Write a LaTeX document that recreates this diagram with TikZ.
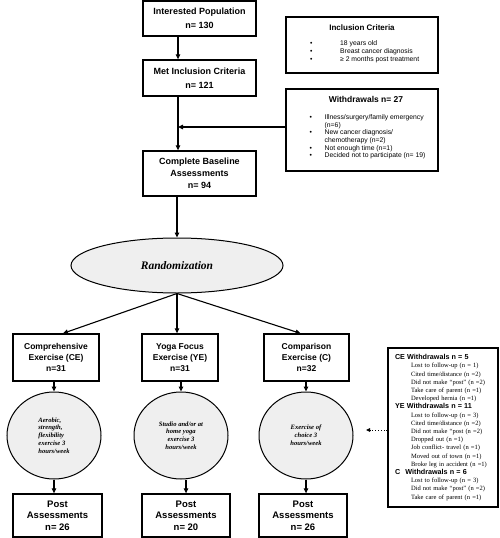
\documentclass[tikz,border=0pt]{standalone}
\usepackage{fontspec}
\setmainfont{Liberation Serif}
\setsansfont{Liberation Sans}
\usetikzlibrary{arrows.meta,shapes.geometric}
\definecolor{ellfill}{HTML}{EFEFEF}
\newcommand\wdhead{\fontsize{7.2}{8.2}\selectfont\sffamily\bfseries}
\begin{document}
\begin{tikzpicture}[x=1pt,y=-1pt,
  box/.style={draw,line width=1.3pt,inner sep=0pt,align=center},
  mainfont/.style={font=\fontsize{9}{14}\selectfont\sffamily\bfseries},
  armfont/.style={font=\fontsize{8.5}{11}\selectfont\sffamily\bfseries},
  postfont/.style={font=\fontsize{9.5}{11.5}\selectfont\sffamily\bfseries},
  ell/.style={draw,ellipse,line width=1pt,fill=ellfill,inner sep=0pt},
  elltext/.style={font=\fontsize{6.6}{7.8}\selectfont\rmfamily\bfseries\itshape},
  listfont/.style={font=\fontsize{6.8}{8}\selectfont\sffamily},
  arr/.style={-{Triangle[length=5pt,width=4.5pt]},line width=1.1pt},
  dotarr/.style={-{Triangle[length=4pt,width=3.5pt]},line width=0.9pt,dotted},
]
\useasboundingbox (0,0) rectangle (500,538);

% main column
\node[box,mainfont,minimum width=113pt,minimum height=35pt] (int) at (199.5,18.5) {Interested Population\\n= 130};
\node[box,mainfont,minimum width=113pt,minimum height=36pt] (met) at (199.5,78) {Met Inclusion Criteria\\n= 121};
\node[box,font=\fontsize{9}{12}\selectfont\sffamily\bfseries,minimum width=113pt,minimum height=45pt] (base) at (199.5,173.5) {Complete Baseline\\Assessments\\n= 94};
\coordinate (spine) at (178,0);

% side boxes
\node[draw,line width=1.2pt,minimum width=152pt,minimum height=56pt] (incl) at (362,45) {};
\node[font=\fontsize{8}{9}\selectfont\sffamily\bfseries] (inclh) at (362,28) {Inclusion Criteria};
\node[listfont,anchor=north west,align=left,inner sep=0pt] (incll) at (310,40)
  {\makebox[30pt][l]{•}18 years old\\\makebox[30pt][l]{•}Breast cancer diagnosis\\\makebox[30pt][l]{•}≥ 2 months post treatment};

\node[draw,line width=1.2pt,minimum width=152pt,minimum height=82pt] (wd) at (362,130) {};
\node[font=\fontsize{8.5}{9}\selectfont\sffamily\bfseries] (wdh) at (366,99) {Withdrawals n= 27};
\node[font=\fontsize{6.8}{7.6}\selectfont\sffamily,anchor=north west,align=left,inner sep=0pt] (wdl) at (309.5,114.5)
  {\makebox[15pt][l]{•}Illness/surgery/family emergency\\\makebox[15pt][l]{}(n=6)\\\makebox[15pt][l]{•}New cancer diagnosis/\\\makebox[15pt][l]{}chemotherapy (n=2)\\\makebox[15pt][l]{•}Not enough time (n=1)\\\makebox[15pt][l]{•}Decided not to participate (n= 19)};

% randomization
\node[ell,minimum width=212pt,minimum height=55pt,font=\fontsize{11.5}{12}\selectfont\rmfamily\bfseries\itshape] (rand) at (177,265.5) {Randomization};

% arms
\node[box,armfont,minimum width=86pt,minimum height=47pt] (ce) at (56,357.5) {Comprehensive\\Exercise (CE)\\n=31};
\node[box,armfont,minimum width=76pt,minimum height=47pt] (ye) at (180,357.5) {Yoga Focus\\Exercise (YE)\\n=31};
\node[box,armfont,minimum width=85pt,minimum height=47pt] (cc) at (306.5,357.5) {Comparison\\Exercise (C)\\n=32};

\node[ell,elltext,align=left,minimum width=94pt,minimum height=87pt] (ceE) at (54,435.5) {Aerobic,\\strength,\\flexibility\\exercise 3\\hours/week};
\node[ell,elltext,align=center,minimum width=94pt,minimum height=87pt] (yeE) at (181,435.5) {Studio and/or at\\home yoga\\exercise 3\\hours/week};
\node[ell,elltext,align=center,minimum width=94pt,minimum height=87pt] (cE) at (306,435.5) {Exercise of\\choice 3\\hours/week};

\node[box,postfont,minimum width=89pt,minimum height=43pt] (cep) at (57.5,515.5) {Post\\Assessments\\n= 26};
\node[box,postfont,minimum width=88pt,minimum height=43pt] (yep) at (186,515.5) {Post\\Assessments\\n= 20};
\node[box,postfont,minimum width=88pt,minimum height=43pt] (cp) at (303,515.5) {Post\\Assessments\\n= 26};

% withdrawals box (arms)
\node[draw,line width=1.3pt,minimum width=110pt,minimum height=159pt,text width=96pt,inner xsep=7pt,inner ysep=0pt,align=left,font=\fontsize{6.5}{8.2}\selectfont\rmfamily] (wbox) at (443,427.5)
  {{\wdhead CE Withdrawals n = 5}\\
   \hspace*{16pt}Lost to follow-up (n = 1)\\
   \hspace*{16pt}Cited time/distance (n =2)\\
   \hspace*{16pt}Did not make “post” (n =2)\\
   \hspace*{16pt}Take care of parent (n =1)\\
   \hspace*{16pt}Developed hernia (n =1)\\
   {\wdhead YE Withdrawals n = 11}\\
   \hspace*{16pt}Lost to follow-up (n = 3)\\
   \hspace*{16pt}Cited time/distance (n =2)\\
   \hspace*{16pt}Did not make “post (n =2)\\
   \hspace*{16pt}Dropped out (n =1)\\
   \hspace*{16pt}Job conflict- travel (n =1)\\
   \hspace*{16pt}Moved out of town (n =1)\\
   \hspace*{16pt}Broke leg in accident (n =1)\\
   {\wdhead C\hspace{3pt} Withdrawals n = 6}\\
   \hspace*{16pt}Lost to follow-up (n = 3)\\
   \hspace*{16pt}Did not make “post” (n =2)\\
   \hspace*{16pt}Take care of parent (n =1)};
\coordinate (dtip) at (366,0);

% connectors
\draw[arr] (int.south -| spine) -- (met.north -| spine);
\draw[arr] (met.south -| spine) -- (base.north -| spine);
\draw[arr] ([yshift=3pt]wd.west) -- ([yshift=3pt]wd.west -| spine);
\draw[arr] (base.south -| rand.north) -- (rand.north);
\draw[arr] (rand.south) -- ([xshift=7pt]ce.north);
\draw[arr] (rand.south) -- (rand.south |- ye.north);
\draw[arr] (rand.south) -- ([xshift=-6pt]cc.north);
\draw[arr] (ce.south -| ceE.north) -- (ceE.north);
\draw[arr] (ye.south -| yeE.north) -- (yeE.north);
\draw[arr] (cc.south -| cE.north) -- (cE.north);
\draw[arr] (ceE.south) -- (ceE.south |- cep.north);
\draw[arr] (yep.north |- yeE.south) -- (yep.north);
\draw[arr] (cE.south) -- (cE.south |- cp.north);
\draw[dotarr] ([yshift=-2.5pt]wbox.west) -- ([yshift=-2.5pt]wbox.west -| dtip);
\end{tikzpicture}
\end{document}
